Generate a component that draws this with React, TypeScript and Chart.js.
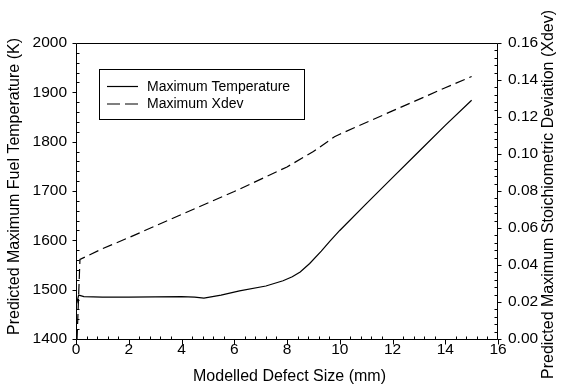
import React, { useEffect, useRef } from "react";
import { Chart, registerables } from "chart.js";

Chart.register(...registerables);

// Modelled defect size (mm) and predicted maximum fuel temperature (K)
const tempX = [0.03, 0.1, 0.3, 1, 2, 3, 4, 4.5, 4.85, 5.5, 6.2, 7.2, 7.85, 8.2, 8.5, 8.86, 9.3, 9.62, 10, 11, 12, 13, 14, 15];
const tempK = [1472, 1489, 1486, 1485, 1485, 1485.5, 1486, 1485, 1483, 1489, 1497.5, 1507.5, 1518, 1526, 1536, 1553, 1578, 1598, 1620, 1674, 1727, 1780, 1833, 1884];

// Modelled defect size (mm) and predicted maximum stoichiometric deviation
const xdevX = [0.04, 0.15, 1, 2, 4, 6, 8, 9, 9.8, 10, 12, 14, 15];
const xdevV = [0.0, 0.043, 0.0488, 0.0548, 0.0673, 0.0797, 0.093, 0.1013, 0.1093, 0.1107, 0.1233, 0.1358, 0.1419];

const seriesLabels = ["Maximum Temperature", "Maximum Xdev"];
const xTitle = "Modelled Defect Size (mm)";
const yTitle = "Predicted Maximum Fuel Temperature (K)";
const y1Title = "Predicted Maximum Stoichiometric Deviation (Xdev)";

const FONT = "'Liberation Sans', Arial, Helvetica, sans-serif";

const decorPlugin = {
  id: "decor",
  afterDraw(chart: any) {
    const { ctx, chartArea, scales } = chart;
    const { left, right, top, bottom } = chartArea;
    const L = Math.round(left) + 0.5;
    const R = Math.round(right) - 0.5;
    const T = Math.round(top) + 0.5;
    const B = Math.round(bottom) + 0.5;
    ctx.save();
    ctx.strokeStyle = "#000";
    ctx.lineWidth = 1;
    ctx.beginPath();
    ctx.moveTo(L, T);
    ctx.lineTo(R, T);
    ctx.lineTo(R, B);
    ctx.lineTo(L, B);
    ctx.closePath();
    ctx.stroke();

    ctx.beginPath();
    // left axis ticks
    for (let v = 1400; v <= 2000; v += 20) {
      const y = Math.round(scales.y.getPixelForValue(v)) + 0.5;
      if (v % 100 === 0) {
        ctx.moveTo(L - 4, y);
        ctx.lineTo(L, y);
      } else {
        ctx.moveTo(L, y);
        ctx.lineTo(L + 3, y);
      }
    }
    // right axis ticks
    for (let i = 0; i <= 40; i++) {
      const v = i * 0.004;
      const y = Math.round(scales.y1.getPixelForValue(v)) + 0.5;
      if (i % 5 === 0) {
        ctx.moveTo(R, y);
        ctx.lineTo(R + 4, y);
      } else {
        ctx.moveTo(R - 3, y);
        ctx.lineTo(R, y);
      }
    }
    // bottom axis ticks
    for (let i = 0; i <= 40; i++) {
      const v = i * 0.4;
      const x = Math.round(scales.x.getPixelForValue(v)) + 0.5;
      if (i % 5 === 0) {
        ctx.moveTo(x, B);
        ctx.lineTo(x, B + 5);
      } else {
        ctx.moveTo(x, B - 3);
        ctx.lineTo(x, B);
      }
    }
    ctx.stroke();

    // axis titles
    ctx.fillStyle = "#000";
    ctx.font = `16px ${FONT}`;
    ctx.textAlign = "center";
    ctx.textBaseline = "middle";
    ctx.fillText(xTitle, 289.5, 377);
    ctx.save();
    ctx.translate(14.5, 186.5);
    ctx.rotate(-Math.PI / 2);
    ctx.fillText(yTitle, 0, 0);
    ctx.restore();
    ctx.save();
    ctx.translate(548.5, 194.5);
    ctx.rotate(-Math.PI / 2);
    ctx.fillText(y1Title, 0, 0);
    ctx.restore();

    // legend
    ctx.lineWidth = 1;
    ctx.strokeRect(99.5, 69.5, 205, 50);
    ctx.lineWidth = 1.2;
    ctx.beginPath();
    ctx.moveTo(107, 86.5);
    ctx.lineTo(138, 86.5);
    ctx.stroke();
    ctx.setLineDash([13, 5]);
    ctx.beginPath();
    ctx.moveTo(107, 104);
    ctx.lineTo(138, 104);
    ctx.stroke();
    ctx.setLineDash([]);
    ctx.font = `14px ${FONT}`;
    ctx.textAlign = "left";
    ctx.fillText(seriesLabels[0], 147, 87);
    ctx.fillText(seriesLabels[1], 147, 104.5);
    ctx.restore();
  },
};

export default function App() {
  const ref = useRef<HTMLCanvasElement | null>(null);
  useEffect(() => {
    if (!ref.current) return;
    const chart = new Chart(ref.current, {
      type: "line",
      data: {
        datasets: [
          {
            label: seriesLabels[0],
            data: tempX.map((x, i) => ({ x, y: tempK[i] })),
            yAxisID: "y",
            borderColor: "#000",
            borderWidth: 1.2,
            pointRadius: 0,
            tension: 0,
            fill: false,
          },
          {
            label: seriesLabels[1],
            data: xdevX.map((x, i) => ({ x, y: xdevV[i] })),
            yAxisID: "y1",
            borderColor: "#000",
            borderWidth: 1.2,
            borderDash: [10, 5],
            pointRadius: 0,
            tension: 0,
            fill: false,
          },
        ],
      },
      options: {
        responsive: false,
        animation: false,
        devicePixelRatio: 1,
        layout: { padding: { top: 43, left: 0, right: 0, bottom: 0 } },
        plugins: { legend: { display: false }, tooltip: { enabled: false } },
        scales: {
          x: {
            type: "linear",
            min: 0,
            max: 16,
            grid: { display: false, drawTicks: false },
            border: { display: false },
            ticks: {
              stepSize: 2,
              color: "#000",
              font: { size: 15.5, family: FONT },
              padding: 1,
              maxRotation: 0,
              callback: (v: any) => String(v),
            },
            afterFit: (s: any) => {
              s.height = 51;
            },
          },
          y: {
            type: "linear",
            position: "left",
            min: 1400,
            max: 2000,
            grid: { display: false, drawTicks: false },
            border: { display: false },
            ticks: {
              stepSize: 100,
              color: "#000",
              font: { size: 15.5, family: FONT },
              padding: 9,
              callback: (v: any) => String(v),
            },
            afterFit: (s: any) => {
              s.width = 76;
            },
          },
          y1: {
            type: "linear",
            position: "right",
            min: 0,
            max: 0.16,
            grid: { display: false, drawTicks: false },
            border: { display: false },
            ticks: {
              stepSize: 0.02,
              color: "#000",
              font: { size: 15.5, family: FONT },
              padding: 10,
              callback: (v: any) => Number(v).toFixed(2),
            },
            afterFit: (s: any) => {
              s.width = 67;
            },
          },
        },
      },
      plugins: [decorPlugin],
    });
    return () => chart.destroy();
  }, []);
  return (
    <div style={{ position: "absolute", left: 0, top: 0, width: 565, height: 390, background: "#fff" }}>
      <canvas ref={ref} width={565} height={390} />
    </div>
  );
}
